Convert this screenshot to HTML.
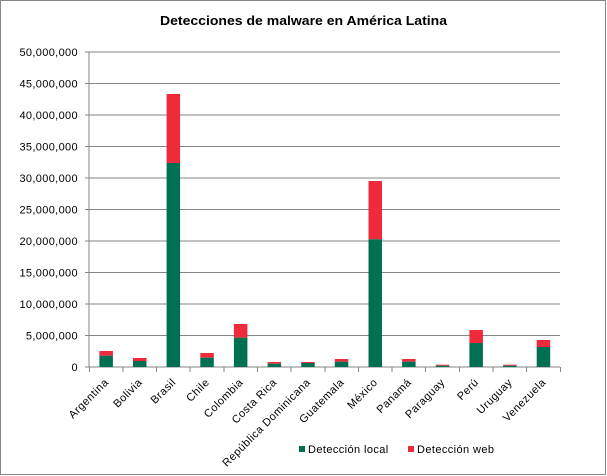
<!DOCTYPE html>
<html><head><meta charset="utf-8"><style>
html,body{margin:0;padding:0;background:#fff;}
svg{display:block;}
text{font-family:"Liberation Sans",Arial,sans-serif;fill:#000;}
</style></head><body>
<svg width="607" height="476" viewBox="0 0 607 476" xmlns="http://www.w3.org/2000/svg">
<rect x="0" y="0" width="607" height="476" fill="#fff"/>
<rect x="0.5" y="0.5" width="605" height="474" fill="none" stroke="#868686" stroke-width="1"/>
<text x="303.5" y="25" text-anchor="middle" font-size="13" font-weight="bold" textLength="287" lengthAdjust="spacingAndGlyphs">Detecciones de malware en América Latina</text>
<g stroke="#868686" stroke-width="1" shape-rendering="crispEdges">
<line x1="85" y1="52" x2="560" y2="52"/>
<line x1="85" y1="83.5" x2="560" y2="83.5"/>
<line x1="85" y1="115" x2="560" y2="115"/>
<line x1="85" y1="146.5" x2="560" y2="146.5"/>
<line x1="85" y1="178" x2="560" y2="178"/>
<line x1="85" y1="209.5" x2="560" y2="209.5"/>
<line x1="85" y1="241" x2="560" y2="241"/>
<line x1="85" y1="272.5" x2="560" y2="272.5"/>
<line x1="85" y1="304" x2="560" y2="304"/>
<line x1="85" y1="335.5" x2="560" y2="335.5"/>
<line x1="85" y1="367" x2="560" y2="367"/>
<line x1="89" y1="52" x2="89" y2="367"/>
</g>
<g font-size="11" text-anchor="end" letter-spacing="0.35">
<text x="78" y="56">50,000,000</text>
<text x="78" y="87.5">45,000,000</text>
<text x="78" y="119">40,000,000</text>
<text x="78" y="150.5">35,000,000</text>
<text x="78" y="182">30,000,000</text>
<text x="78" y="213.5">25,000,000</text>
<text x="78" y="245">20,000,000</text>
<text x="78" y="276.5">15,000,000</text>
<text x="78" y="308">10,000,000</text>
<text x="78" y="339.5">5,000,000</text>
<text x="78" y="371">0</text>
</g>
<g stroke="#868686" stroke-width="1" shape-rendering="crispEdges">
<line x1="89.3" y1="367" x2="89.3" y2="372"/>
<line x1="122.9" y1="367" x2="122.9" y2="372"/>
<line x1="156.6" y1="367" x2="156.6" y2="372"/>
<line x1="190.2" y1="367" x2="190.2" y2="372"/>
<line x1="223.9" y1="367" x2="223.9" y2="372"/>
<line x1="257.5" y1="367" x2="257.5" y2="372"/>
<line x1="291.1" y1="367" x2="291.1" y2="372"/>
<line x1="324.8" y1="367" x2="324.8" y2="372"/>
<line x1="358.4" y1="367" x2="358.4" y2="372"/>
<line x1="392.1" y1="367" x2="392.1" y2="372"/>
<line x1="425.7" y1="367" x2="425.7" y2="372"/>
<line x1="459.3" y1="367" x2="459.3" y2="372"/>
<line x1="493.0" y1="367" x2="493.0" y2="372"/>
<line x1="526.6" y1="367" x2="526.6" y2="372"/>
<line x1="560.3" y1="367" x2="560.3" y2="372"/>
</g>
<g>
<rect x="99.4" y="351" width="13.5" height="4.7" fill="#EE2A3B"/>
<rect x="99.4" y="355.7" width="13.5" height="11.3" fill="#006F52"/>
<rect x="133.0" y="358" width="13.5" height="3" fill="#EE2A3B"/>
<rect x="133.0" y="361" width="13.5" height="6" fill="#006F52"/>
<rect x="166.6" y="94" width="13.5" height="69" fill="#EE2A3B"/>
<rect x="166.6" y="163" width="13.5" height="204" fill="#006F52"/>
<rect x="200.3" y="353" width="13.5" height="4.7" fill="#EE2A3B"/>
<rect x="200.3" y="357.7" width="13.5" height="9.3" fill="#006F52"/>
<rect x="233.9" y="324" width="13.5" height="13.7" fill="#EE2A3B"/>
<rect x="233.9" y="337.7" width="13.5" height="29.3" fill="#006F52"/>
<rect x="267.6" y="362" width="13.5" height="1.7" fill="#EE2A3B"/>
<rect x="267.6" y="363.7" width="13.5" height="3.3" fill="#006F52"/>
<rect x="301.2" y="362" width="13.5" height="1" fill="#EE2A3B"/>
<rect x="301.2" y="363" width="13.5" height="4" fill="#006F52"/>
<rect x="334.8" y="359" width="13.5" height="2.7" fill="#EE2A3B"/>
<rect x="334.8" y="361.7" width="13.5" height="5.3" fill="#006F52"/>
<rect x="368.5" y="181" width="13.5" height="58.3" fill="#EE2A3B"/>
<rect x="368.5" y="239.3" width="13.5" height="127.7" fill="#006F52"/>
<rect x="402.1" y="359" width="13.5" height="2.7" fill="#EE2A3B"/>
<rect x="402.1" y="361.7" width="13.5" height="5.3" fill="#006F52"/>
<rect x="435.8" y="364.7" width="13.5" height="1" fill="#EE2A3B"/>
<rect x="435.8" y="365.7" width="13.5" height="1.3" fill="#006F52"/>
<rect x="469.4" y="330" width="13.5" height="13" fill="#EE2A3B"/>
<rect x="469.4" y="343" width="13.5" height="24" fill="#006F52"/>
<rect x="503.1" y="364.7" width="13.5" height="1" fill="#EE2A3B"/>
<rect x="503.1" y="365.7" width="13.5" height="1.3" fill="#006F52"/>
<rect x="536.7" y="340" width="13.5" height="7" fill="#EE2A3B"/>
<rect x="536.7" y="347" width="13.5" height="20" fill="#006F52"/>
</g>
<g font-size="11" text-anchor="end" letter-spacing="0.45">
<text transform="translate(109.1,383) rotate(-45)">Argentina</text>
<text transform="translate(142.8,383) rotate(-45)">Bolivia</text>
<text transform="translate(176.4,383) rotate(-45)">Brasil</text>
<text transform="translate(210.0,383) rotate(-45)">Chile</text>
<text transform="translate(243.7,383) rotate(-45)">Colombia</text>
<text transform="translate(277.3,383) rotate(-45)">Costa Rica</text>
<text transform="translate(311.0,383) rotate(-45)">República Dominicana</text>
<text transform="translate(344.6,383) rotate(-45)">Guatemala</text>
<text transform="translate(378.2,383) rotate(-45)">México</text>
<text transform="translate(411.9,383) rotate(-45)">Panamá</text>
<text transform="translate(445.5,383) rotate(-45)">Paraguay</text>
<text transform="translate(479.2,383) rotate(-45)">Perú</text>
<text transform="translate(512.8,383) rotate(-45)">Uruguay</text>
<text transform="translate(546.5,383) rotate(-45)">Venezuela</text>
</g>
<rect x="299" y="446" width="6" height="6" fill="#006F52"/>
<text x="308" y="453" font-size="11" letter-spacing="0.4">Detección local</text>
<rect x="408" y="446" width="6" height="6" fill="#EE2A3B"/>
<text x="417" y="453" font-size="11" letter-spacing="0.4">Detección web</text>
</svg>
</body></html>
